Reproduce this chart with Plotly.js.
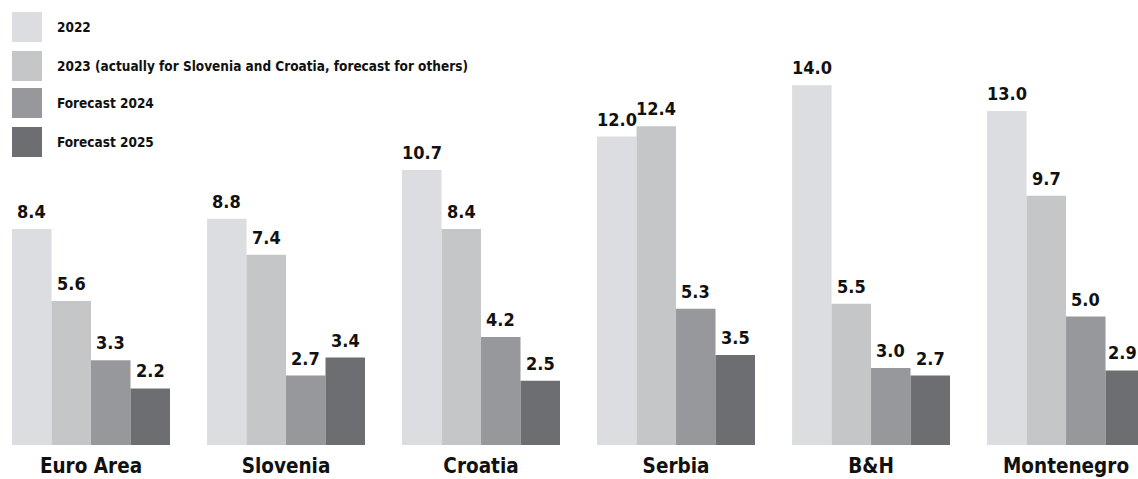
<!DOCTYPE html>
<html>
<head>
<meta charset="utf-8">
<script src="https://cdn.plot.ly/plotly-3.0.1.min.js"></script>
<style>html,body{margin:0;padding:0;background:#fff;}#chart{width:1138px;height:479px;}</style>
</head>
<body>
<div id="chart"></div>
<script>
const categories = ["Euro Area", "Slovenia", "Croatia", "Serbia", "B&H", "Montenegro"];
const seriesNames = ["2022", "2023 (actually for Slovenia and Croatia, forecast for others)", "Forecast 2024", "Forecast 2025"];
const v2022 = [8.4, 8.8, 10.7, 12.0, 14.0, 13.0];
const v2023 = [5.6, 7.4, 8.4, 12.4, 5.5, 9.7];
const v2024 = [3.3, 2.7, 4.2, 5.3, 3.0, 5.0];
const v2025 = [2.2, 3.4, 2.5, 3.5, 2.7, 2.9];
const seriesValues = [v2022, v2023, v2024, v2025];
const colors = ["#dcdde0", "#c5c6c8", "#97989c", "#6d6e72"];

const FONT = "'DejaVu Sans Condensed', 'Liberation Sans Narrow', sans-serif";
const W = 1138, H = 479, B = 34;
const plotH = H - B;

const traces = seriesValues.map((vals, i) => ({
  type: "bar",
  name: seriesNames[i],
  x: categories,
  y: vals,
  marker: {color: colors[i], line: {width: 0}},
  showlegend: false,
  hoverinfo: "skip"
}));

const barPx = 39.5;
const annotations = [];
seriesValues.forEach((vals, i) => {
  vals.forEach((v, j) => {
    const edge = (i === seriesValues.length - 1 && j === categories.length - 1) ? -3 : 0;
    annotations.push({
      x: categories[j], y: v, xref: "x", yref: "y",
      text: "<b>" + v.toFixed(1) + "</b>",
      showarrow: false, xanchor: "center", yanchor: "bottom",
      xshift: (i - 1.5) * barPx + edge, yshift: 5,
      font: {family: FONT, size: 18, color: "#111"}
    });
  });
});

// legend drawn manually
const legendY = [27, 66, 103, 142];
const shapes = [];
seriesNames.forEach((n, i) => {
  const cy = legendY[i];
  shapes.push({
    type: "rect", xref: "paper", yref: "paper",
    x0: 12 / W, x1: 42 / W,
    y0: (plotH - (cy + 15)) / plotH, y1: (plotH - (cy - 15)) / plotH,
    fillcolor: colors[i], line: {width: 0}, layer: "above"
  });
  annotations.push({
    xref: "paper", yref: "paper", x: 55 / W, y: (plotH - cy) / plotH,
    xanchor: "left", yanchor: "middle", showarrow: false,
    text: "<b>" + n + "</b>",
    font: {family: FONT, size: 13.5, color: "#111"}
  });
});

const layout = {
  width: W, height: H,
  margin: {l: 0, r: 0, t: 0, b: B, pad: 0},
  paper_bgcolor: "#ffffff", plot_bgcolor: "#ffffff",
  barmode: "group", bargap: 0.19, bargroupgap: 0,
  xaxis: {
    type: "category", range: [-0.4667, 5.369],
    showgrid: false, zeroline: false, showline: false, ticks: "",
    tickfont: {family: FONT, size: 20.5, color: "#111"},
    ticktext: categories.map(c => "<b>" + c + "</b>"), tickvals: categories,
    ticklabelstandoff: 6,
    fixedrange: true
  },
  yaxis: {
    range: [0, plotH / 25.7], visible: false, fixedrange: true
  },
  shapes: shapes,
  annotations: annotations,
  showlegend: false
};

Plotly.newPlot("chart", traces, layout, {displayModeBar: false, staticPlot: true});
</script>
</body>
</html>
